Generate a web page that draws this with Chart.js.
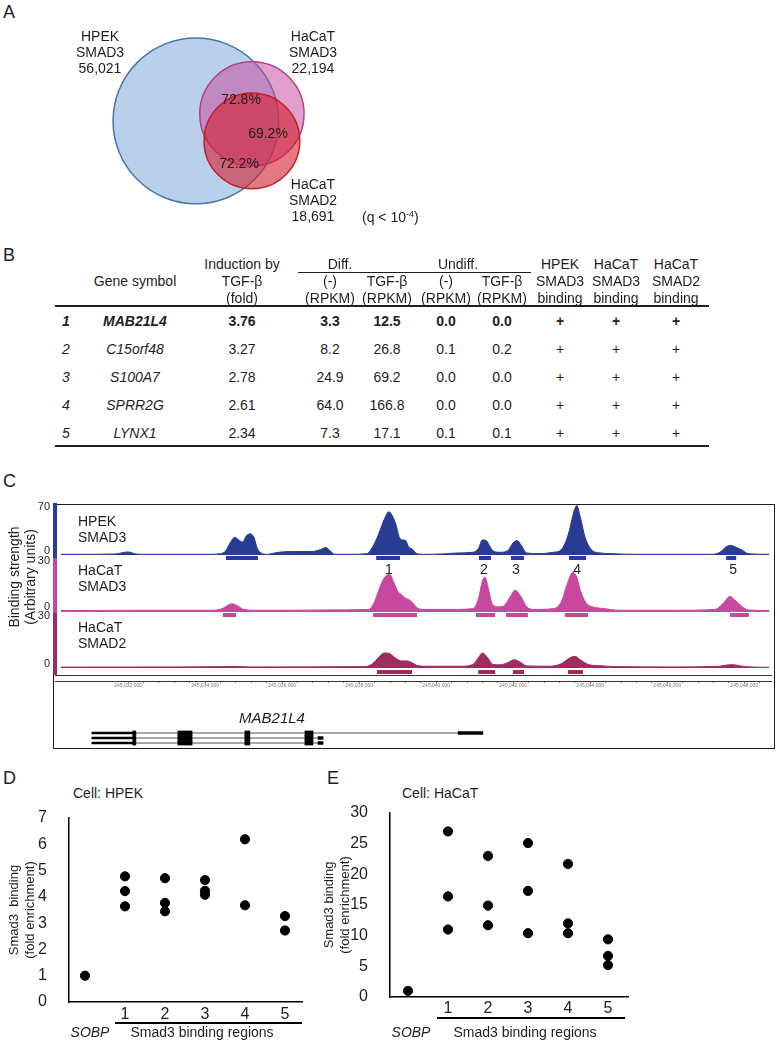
<!DOCTYPE html>
<html><head><meta charset="utf-8">
<script src="https://cdn.jsdelivr.net/npm/chart.js@4.4.1/dist/chart.umd.min.js"></script>
<style>
html,body{margin:0;padding:0;background:#fff;}
#fig{position:relative;width:778px;height:1044px;overflow:hidden;font-family:'Liberation Sans',Arial,Helvetica,sans-serif;color:#1e1e1e;}
#fig .t{position:absolute;white-space:nowrap;line-height:1.15;}
#fig canvas{position:absolute;}
#fig .ln{position:absolute;background:#1e1e1e;}
sup{font-size:9px;vertical-align:5px;line-height:0;}
</style></head><body><div id="fig"></div>
<script>
// ================= DATA =================
// Panel A – Venn
const vennSets = ['HPEK SMAD3', 'HaCaT SMAD3', 'HaCaT SMAD2'];
const vennCounts = [56021, 22194, 18691];
const vennOverlapLabels = ['72.8%', '69.2%', '72.2%'];
const vennCenterX = [274, 434, 434];   // venn layout units
const vennCenterY = [283, 303, 226];

// Panel B – table
const tableGenes = ['MAB21L4', 'C15orf48', 'S100A7', 'SPRR2G', 'LYNX1'];
const tableFold = ['3.76', '3.27', '2.78', '2.61', '2.34'];
const diffCtrl = ['3.3', '8.2', '24.9', '64.0', '7.3'];
const diffTgf = ['12.5', '26.8', '69.2', '166.8', '17.1'];
const undiffCtrl = ['0.0', '0.1', '0.0', '0.0', '0.1'];
const undiffTgf = ['0.0', '0.2', '0.0', '0.0', '0.1'];
const hpekSmad3Binding = ['+', '+', '+', '+', '+'];
const hacatSmad3Binding = ['+', '+', '+', '+', '+'];
const hacatSmad2Binding = ['+', '+', '+', '+', '+'];

// Panel C – ChIP-seq coverage (position in kb, binding strength)
const hpekCoverage = [[0.1,1],[0.6,1],[1.5,1.5],[1.85,4.5],[2.05,1.5],[2.3,1],[3.0,1],[3.9,1],[4.25,2],[4.38,6],[4.5,18],[4.62,26],[4.72,22],[4.82,19],[4.92,28],[5.02,31],[5.12,25],[5.2,10],[5.3,3],[5.45,1],[5.75,4],[6.2,5],[6.6,5],[6.85,8],[6.98,11],[7.1,6],[7.22,1],[7.6,1],[8.05,2],[8.2,12],[8.35,30],[8.5,52],[8.62,63],[8.7,58],[8.8,45],[8.9,25],[8.98,22],[9.06,21],[9.13,12],[9.22,9],[9.32,3],[9.5,1],[10.0,1.5],[10.4,3],[10.8,4],[10.95,10],[11.05,22],[11.15,21],[11.25,12],[11.35,5],[11.5,4],[11.7,6],[11.85,18],[11.95,21],[12.05,15],[12.2,3],[12.5,2],[12.9,4],[13.1,8],[13.28,30],[13.42,62],[13.5,72],[13.58,58],[13.72,25],[13.88,8],[14.1,3],[14.4,2],[15.0,1],[16.0,1],[17.0,1],[17.22,4],[17.38,12],[17.5,14],[17.65,11],[17.8,7],[17.95,2],[18.5,1]];
const hacatSmad3Coverage = [[0.1,0.8],[2.0,1],[4.0,1],[4.3,2],[4.45,4],[4.55,4.8],[4.7,3.5],[4.85,1.5],[5.2,1],[6.0,1],[7.0,1.2],[8.1,1.5],[8.25,6],[8.4,15],[8.55,21],[8.65,21.5],[8.75,17],[8.85,12],[8.95,10],[9.05,8],[9.15,7],[9.25,5],[9.35,2.5],[9.5,1.5],[10.3,1.5],[10.8,2],[10.95,8],[11.05,18],[11.12,20],[11.2,14],[11.3,5],[11.45,3],[11.6,3.5],[11.75,8],[11.9,12.5],[12.05,9],[12.2,3],[12.4,1.5],[12.9,2],[13.1,6],[13.25,16],[13.4,23],[13.5,20],[13.6,12],[13.75,5],[13.9,3],[14.2,2],[14.6,1],[16.0,1],[17.1,1.5],[17.3,5],[17.48,9],[17.6,7],[17.8,3],[17.95,1.2],[18.5,0.8]];
const hacatSmad2Coverage = [[0.1,0.5],[3.0,0.6],[4.4,0.8],[4.6,0.9],[5.0,0.6],[8.0,0.8],[8.2,2.5],[8.35,6],[8.5,8.5],[8.65,8],[8.8,5.5],[8.95,4],[9.1,4],[9.2,3.2],[9.35,1.5],[9.6,1],[10.5,1],[10.8,2],[10.95,6],[11.05,8.5],[11.18,6],[11.33,2],[11.5,1.8],[11.7,3],[11.88,4.7],[12.02,3.5],[12.2,1.2],[12.8,1],[13.1,2.5],[13.3,5.5],[13.45,6.6],[13.6,4.5],[13.8,2],[14.1,1.3],[14.5,0.8],[16.0,0.6],[17.2,1],[17.4,1.7],[17.55,1.9],[17.75,1.2],[18.0,0.6],[18.5,0.4]];

// called binding regions (start kb, end kb)
const hpekPeaks = [[4.39,5.22],[8.29,8.91],[10.96,11.27],[11.79,12.13],[13.30,13.74],[17.38,17.64]];
const hacatSmad3Peaks = [[4.31,4.65],[8.21,9.35],[10.88,11.38],[11.66,12.23],[13.19,13.79],[17.48,17.97]];
const hacatSmad2Peaks = [[8.31,9.22],[10.94,11.38],[11.84,12.13],[13.27,13.66]];
const regionLabels = ['1', '2', '3', '4', '5'];
const regionLabelPos = [8.62, 11.09, 11.92, 13.51, 17.56];

// genome ruler
const rulerPos = [1.85, 3.85, 5.85, 7.85, 9.85, 11.85, 13.85, 15.85, 17.85];
const rulerLabels = ['245,032,000','245,034,000','245,036,000','245,038,000','245,040,000','245,042,000','245,044,000','245,046,000','245,048,000'];

// gene model (MAB21L4 transcripts)
const transcripts = ['MAB21L4-a', 'MAB21L4-b', 'MAB21L4-c'];
const txStart = [0.91, 0.91, 0.91];
const txEnd = [11.06, 6.91, 6.91];
const exonStarts = [[1.97, 3.14, 4.88, 6.44, 10.42], [1.97, 3.14, 4.88, 6.44, 6.78], [1.97, 3.14, 4.88, 6.44, 6.78]];
const exonEnds   = [[2.05, 3.51, 5.01, 6.65, 11.06], [2.05, 3.51, 5.01, 6.65, 6.91], [2.05, 3.51, 5.01, 6.65, 6.91]];

// Panels D, E – ChIP-qPCR
const qpcrCategories = ['SOBP', '1', '2', '3', '4', '5'];
const hpekEnrichment = [[1.0], [4.78, 4.22, 3.64], [4.71, 3.77, 3.45], [4.64, 4.23, 4.08], [6.19, 3.68], [3.27, 2.72]];
const hacatEnrichment = [[1.0], [27.0, 16.4, 11.0], [23.0, 14.9, 11.7], [25.1, 17.3, 10.4], [21.7, 12.0, 10.4], [9.4, 6.7, 5.2]];
const hpekTicks = [0, 1, 2, 3, 4, 5, 6, 7];
const hacatTicks = [0, 5, 10, 15, 20, 25, 30];

// ================= HELPERS =================
const FONT = "'Liberation Sans', Arial, Helvetica, sans-serif";
Chart.defaults.font.family = FONT;
Chart.defaults.color = '#1e1e1e';
const fig = document.getElementById('fig');

function T(html, x, y, o = {}) {
  const d = document.createElement('div');
  d.className = 't';
  d.innerHTML = html;
  d.style.left = x + 'px';
  d.style.top = y + 'px';
  d.style.fontSize = (o.size || 14) + 'px';
  if (o.italic) d.style.fontStyle = 'italic';
  if (o.bold) d.style.fontWeight = 'bold';
  if (o.center) d.style.textAlign = 'center';
  if (o.lh) d.style.lineHeight = o.lh;
  const ax = o.align === 'left' ? '0' : (o.align === 'right' ? '-100%' : '-50%');
  d.style.transform = `translate(${ax},-50%)` + (o.rot ? ' rotate(-90deg)' : '');
  fig.appendChild(d);
  return d;
}
function L(x, y, w, h, c) {
  const d = document.createElement('div');
  d.className = 'ln';
  d.style.left = x + 'px'; d.style.top = y + 'px';
  d.style.width = w + 'px'; d.style.height = h + 'px';
  if (c) d.style.background = c;
  fig.appendChild(d);
  return d;
}
function C(left, top, w, h) {
  const c = document.createElement('canvas');
  c.width = w; c.height = h;
  c.style.left = left + 'px'; c.style.top = top + 'px';
  c.style.width = w + 'px'; c.style.height = h + 'px';
  fig.appendChild(c);
  return c;
}
const lay = p => ({ padding: p, autoPadding: false });
const noPad = s => { s.paddingTop = 0; s.paddingBottom = 0; s.paddingLeft = 0; s.paddingRight = 0; };
const base = { responsive: false, animation: false, events: [], devicePixelRatio: 1,
  plugins: { legend: { display: false }, tooltip: { enabled: false } } };

// ================= PANEL LETTERS =================
T('A', 3, 12, { size: 18, align: 'left' });
T('B', 3, 255, { size: 18, align: 'left' });
T('C', 3, 481, { size: 18, align: 'left' });
T('D', 3, 778, { size: 18, align: 'left' });
T('E', 327, 778, { size: 18, align: 'left' });

// ================= PANEL A =================
const vennFill = ['rgba(120,165,215,0.52)', 'rgba(200,80,160,0.55)', 'rgba(212,30,45,0.6)'];
const vennStroke = ['#4577a8', '#b0408f', '#c0202a'];
const VENN_K = 0.35; // px per sqrt(peak count)
new Chart(C(100, 30, 230, 190), {
  type: 'bubble',
  data: { datasets: vennSets.map((s, i) => ({
    label: s,
    data: [{ x: vennCenterX[i], y: vennCenterY[i], r: Math.sqrt(vennCounts[i]) * VENN_K }],
    backgroundColor: vennFill[i], borderColor: vennStroke[i], borderWidth: 1.5,
    order: 3 - i, clip: false })) },
  options: { ...base, layout: lay(0),
    scales: { x: { display: false, min: 0, max: 230 / VENN_K }, y: { display: false, min: 0, max: 190 / VENN_K } } }
});
const fmt = n => n.toLocaleString('en-US');
T('HPEK<br>SMAD3<br>' + fmt(vennCounts[0]), 100, 52, { center: true });
T('HaCaT<br>SMAD3<br>' + fmt(vennCounts[1]), 313, 52, { center: true });
T('HaCaT<br>SMAD2<br>' + fmt(vennCounts[2]), 313, 200, { center: true });
T(vennOverlapLabels[0], 241, 99);
T(vennOverlapLabels[1], 268, 133);
T(vennOverlapLabels[2], 239, 163);
T('(q &lt; 10<sup>-4</sup>)', 362, 217, { align: 'left' });

// ================= PANEL B =================
const colX = [66, 135, 242, 330, 387, 446, 502, 560, 616, 676];
const headY = [264, 281, 298];
const rowY = [321, 349, 377, 405, 433];
T('Induction by', colX[2], headY[0]);
T('Diff.', 340, headY[0]);
T('Undiff.', 458, headY[0]);
T('HPEK', colX[7], headY[0]); T('HaCaT', colX[8], headY[0]); T('HaCaT', colX[9], headY[0]);
T('Gene symbol', colX[1], headY[1]);
T('TGF-β', colX[2], headY[1]);
T('(-)', colX[3], headY[1]); T('TGF-β', colX[4], headY[1]);
T('(-)', colX[5], headY[1]); T('TGF-β', colX[6], headY[1]);
T('SMAD3', colX[7], headY[1]); T('SMAD3', colX[8], headY[1]); T('SMAD2', colX[9], headY[1]);
T('(fold)', colX[2], headY[2]);
[3, 4, 5, 6].forEach(c => T('(RPKM)', colX[c], headY[2]));
[7, 8, 9].forEach(c => T('binding', colX[c], headY[2]));
L(298, 272, 233, 1);
L(55, 305, 654, 2);
L(55, 445, 654, 2);
tableGenes.forEach((g, i) => {
  const b = i === 0, y = rowY[i];
  T(String(i + 1), colX[0], y, { italic: true, bold: b });
  T(g, colX[1], y, { italic: true, bold: b });
  const vals = [tableFold[i], diffCtrl[i], diffTgf[i], undiffCtrl[i], undiffTgf[i], hpekSmad3Binding[i], hacatSmad3Binding[i], hacatSmad2Binding[i]];
  vals.forEach((v, k) => T(v, colX[k + 2], y, { bold: b }));
});

// ================= PANEL C =================
const X_MIN = -0.05, X_MAX = 18.57;
const boxDiv = L(53, 504, 720, 243, 'transparent');
boxDiv.style.border = '1.5px solid #1e1e1e';

const TOP_MARGIN = 10; // room above each track for its top tick label
// labelAt: where the '0' and max labels sit (browser-style: 0 just above baseline, max just below top)
function track(top, h, cov, peaks, color, yMin, yMax, tickMax, labelAt, peakLevel, plugins) {
  const barPts = [];
  peaks.forEach(([s, e]) => { barPts.push({ x: s, y: peakLevel }, { x: e, y: peakLevel }, { x: e + 0.01, y: null }); });
  return new Chart(C(20, top - TOP_MARGIN, 752, h + TOP_MARGIN), {
    type: 'line',
    data: { datasets: [
      { data: cov.map(([x, y]) => ({ x, y })), borderColor: color, backgroundColor: color, borderWidth: 1,
        fill: 'origin', pointRadius: 0, tension: 0.35, cubicInterpolationMode: 'monotone' },
      { data: barPts, borderColor: color, borderWidth: 4, borderCapStyle: 'butt', fill: false,
        pointRadius: 0, spanGaps: false, tension: 0 }
    ] },
    options: { ...base, layout: lay({ top: TOP_MARGIN }),
      scales: {
        x: { type: 'linear', min: X_MIN, max: X_MAX, display: false },
        y: { type: 'linear', min: yMin, max: yMax,
          afterFit: s => { s.width = 35; noPad(s); },
          afterBuildTicks: s => { s.ticks = [{ value: labelAt[0] }, { value: labelAt[1] }]; },
          ticks: { font: { size: 11 }, padding: 5, color: '#1e1e1e',
            callback: (v, i) => (i === 0 ? '0' : String(tickMax)) },
          grid: { display: false, drawTicks: false },
          border: { display: true, color: color, width: 4 } }
      } },
    plugins: plugins || []
  });
}
const regionLabelPlugin = {
  id: 'regionLabels',
  afterDatasetsDraw(chart) {
    const { ctx, chartArea } = chart; const x = chart.scales.x;
    ctx.save(); ctx.font = '14px ' + FONT; ctx.fillStyle = '#1e1e1e';
    ctx.textAlign = 'center'; ctx.textBaseline = 'middle';
    regionLabelPos.forEach((p, i) => ctx.fillText(regionLabels[i], x.getPixelForValue(p), chartArea.top + 10));
    ctx.restore();
  }
};
track(505, 55, hpekCoverage, hpekPeaks, '#283c96', -7.29, 72.9, 70, [5.8, 70], -4.37);
track(560, 57, hacatSmad3Coverage, hacatSmad3Peaks, '#c8479f', -2.885, 30, 30, [2.9, 29.4], -1.73, [regionLabelPlugin]);
track(615, 60, hacatSmad2Coverage, hacatSmad2Peaks, '#9c2d60', -3.96, 30, 30, [2.26, 29.4], -2.26);

T('HPEK<br>SMAD3', 78, 529, { align: 'left' });
T('HaCaT<br>SMAD3', 78, 578, { align: 'left' });
T('HaCaT<br>SMAD2', 78, 635, { align: 'left' });
T('Binding strength<br>(Arbitrary units)', 22, 577, { rot: true, center: true });

// ruler
const rulerTicks = [];
rulerPos.forEach((p, i) => { for (let k = 0; k < 5; k++) rulerTicks.push({ value: p + k * 0.4, label: k === 0 ? rulerLabels[i] : '' }); });
const rulerShown = rulerTicks.filter(t => t.value <= X_MAX);
new Chart(C(20, 673, 752, 16), {
  type: 'line', data: { datasets: [] },
  options: { ...base, layout: lay({ top: 2 }),
    scales: {
      x: { type: 'linear', position: 'bottom', min: X_MIN, max: X_MAX,
        afterFit: s => { s.height = 8; noPad(s); },
        afterBuildTicks: s => { s.ticks = rulerShown.map(t => ({ value: t.value })); },
        ticks: { font: { size: 5 }, color: '#777', padding: 0, autoSkip: false, maxRotation: 0,
          callback: (v, i) => rulerShown[i] ? rulerShown[i].label : '' },
        grid: { display: true, drawOnChartArea: false, drawTicks: true, tickLength: 2, color: '#777' },
        border: { display: true, color: '#333', width: 1 } },
      y: { min: 0, max: 1, afterFit: s => { s.width = 35; noPad(s); },
        afterBuildTicks: s => { s.ticks = [{ value: 0 }, { value: 1 }]; },
        ticks: { display: false }, grid: { display: true, color: '#333', drawTicks: false }, border: { display: false } }
    } }
});

// gene model
const geneDatasets = [];
geneDatasets.push({ data: transcripts.map((t, i) => [txStart[i], txEnd[i]]), backgroundColor: '#8a8a8a', barThickness: 1, grouped: false, order: 10 });
geneDatasets.push({ data: transcripts.map((t, i) => [txStart[i], exonStarts[i][0]]), backgroundColor: '#000', barThickness: 2, grouped: false, order: 9 });
for (let k = 0; k < 5; k++) {
  geneDatasets.push({ data: transcripts.map((t, i) => [exonStarts[i][k], exonEnds[i][k]]), backgroundColor: '#000',
    barThickness: k === 4 ? 3 : 5, grouped: false, order: 1 });
}
new Chart(C(20, 689, 752, 59), {
  type: 'bar', data: { labels: transcripts, datasets: geneDatasets },
  options: { ...base, indexAxis: 'y', layout: lay({ top: 41.5, bottom: 2.5 }),
    scales: {
      x: { type: 'linear', min: X_MIN, max: X_MAX, display: false },
      y: { display: true, afterFit: s => { s.width = 35; noPad(s); }, ticks: { display: false },
        grid: { display: false, drawTicks: false }, border: { display: false } }
    } }
});
T('MAB21L4', 272, 718, { italic: true, size: 15 });

// ================= PANELS D & E =================
function qpcr(left, top, w, h, axisW, axisH, padTop, padRight, values, ticks, xMin, xMax, titleText, titlePad, tickPad, xTickPad) {
  const pts = [];
  values.forEach((arr, g) => arr.forEach(v => pts.push({ x: g, y: v })));
  return new Chart(C(left, top, w, h), {
    type: 'scatter',
    data: { datasets: [{ data: pts, backgroundColor: '#000', borderColor: '#000', pointRadius: 4.6, clip: false }] },
    options: { ...base, layout: lay({ top: padTop, right: padRight }),
      scales: {
        x: { type: 'linear', min: xMin, max: xMax,
          afterFit: s => { s.height = axisH; noPad(s); },
          afterBuildTicks: s => { s.ticks = qpcrCategories.slice(1).map((c, i) => ({ value: i + 1 })); },
          ticks: { font: { size: 16 }, color: '#1e1e1e', padding: xTickPad, autoSkip: false, maxRotation: 0,
            callback: v => qpcrCategories[v] },
          grid: { display: false, drawTicks: false },
          border: { display: true, color: '#000', width: 1.5 } },
        y: { type: 'linear', min: ticks[0], max: ticks[ticks.length - 1],
          afterFit: s => { s.width = axisW; noPad(s); },
          afterBuildTicks: s => { s.ticks = ticks.map(v => ({ value: v })); },
          ticks: { font: { size: 16 }, color: '#1e1e1e', padding: tickPad },
          grid: { display: false, drawTicks: false },
          border: { display: true, color: '#000', width: 1.5 },
          title: { display: true, text: titleText, font: { size: 13 }, color: '#1e1e1e', padding: { top: titlePad, bottom: 0 } } }
      } }
  });
}
qpcr(0, 808, 310, 232, 69, 38, 10, 8, hpekEnrichment, hpekTicks, -0.4, 5.425, ['Smad3  binding', '(fold enrichment)'], 7, 22, 3);
qpcr(318, 803, 317, 232, 72, 38, 10, 7, hacatEnrichment, hacatTicks, -0.45, 5.5, ['Smad3 binding', '(fold enrichment)'], 4, 22, 2);

T('Cell: HPEK', 73, 793, { align: 'left' });
T('Cell: HaCaT', 402, 793, { align: 'left' });
L(115, 1022, 187, 1.5, '#000');
L(437, 1017, 188, 1.5, '#000');
T(qpcrCategories[0], 90, 1032, { italic: true });
T('Smad3 binding regions', 202, 1032);
T(qpcrCategories[0], 411, 1032, { italic: true });
T('Smad3 binding regions', 525, 1032);
</script></body></html>
